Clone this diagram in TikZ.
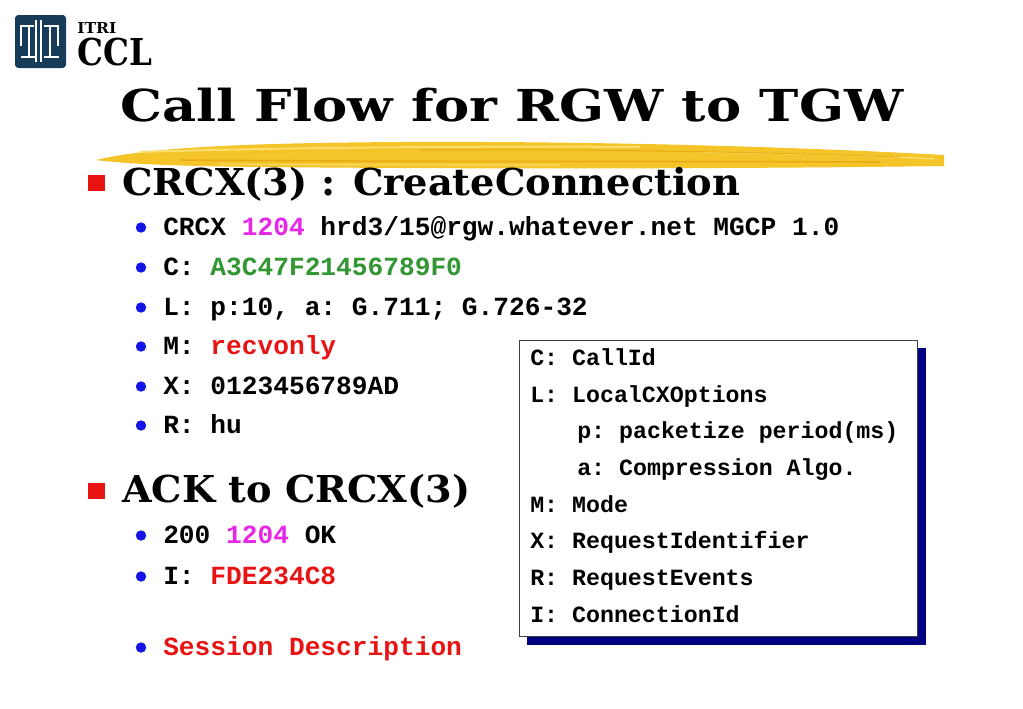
\documentclass[tikz,border=0pt]{standalone}
\usepackage{fontspec}
\usepackage{graphicx}
\setmainfont{DejaVu Serif}
\setmonofont{Liberation Mono}
\definecolor{logoblue}{RGB}{22,60,90}
\definecolor{mag}{RGB}{230,40,230}
\definecolor{grn}{RGB}{50,150,50}
\definecolor{rd}{RGB}{232,20,20}
\definecolor{bdot}{RGB}{20,20,230}
\definecolor{navy}{RGB}{0,0,128}
\definecolor{brushA}{RGB}{244,196,40}
\definecolor{brushB}{RGB}{250,222,110}
\definecolor{brushC}{RGB}{232,172,20}
\tikzset{
  sub/.style={anchor=base west, inner sep=0pt, font=\ttfamily\bfseries\fontsize{19.65}{21}\selectfont},
  boxt/.style={anchor=base west, inner sep=0pt, font=\ttfamily\bfseries\fontsize{17.45}{19}\selectfont},
  bdotstyle/.style={circle, fill=bdot, inner sep=0pt, minimum size=7.8pt},
  sqbullet/.style={fill=rd, inner sep=0pt, minimum width=12.75pt, minimum height=12pt},
  head/.style={anchor=base west, inner sep=0pt, font=\bfseries\fontsize{27.8}{30}\selectfont},
  logostroke/.style={white, line width=2pt},
}
\begin{document}
\begin{tikzpicture}[x=0.75pt,y=-0.75pt]
\useasboundingbox (0,0) rectangle (1023,708);
\fill[white] (0,0) rectangle (1023,708);
% logo
\fill[logoblue, rounded corners=2.5pt] (15,15) rectangle (66,68);
\draw[logostroke] (34,26) -- (21,26) -- (21,46);
\draw[logostroke] (29,26) -- (29,57);
\draw[logostroke] (21,57) -- (35,57);
\draw[logostroke] (36,20) -- (36,62);
\draw[logostroke] (41,20) -- (41,62);
\draw[logostroke] (44,26) -- (58,26) -- (58,46);
\draw[logostroke] (50,26) -- (50,57);
\draw[logostroke] (44,57) -- (59,57);
\node (itri) [anchor=base west, inner sep=0pt, font=\bfseries\fontsize{11.3}{12}\selectfont] at (77,33) {\resizebox{29.25pt}{\height}{ITRI}};
\node (ccl) [anchor=base west, inner sep=0pt, font=\bfseries\fontsize{27.8}{30}\selectfont] at (77,65) {\resizebox{56pt}{\height}{CCL}};
% title
\node (title) [anchor=base west, inner sep=0pt, font=\bfseries\fontsize{33}{36}\selectfont] at (120,121) {\resizebox{587.25pt}{\height}{Call Flow for RGW to TGW}};
% brush stroke
\fill[brushA] (96,160) .. controls (150,147) and (250,143) .. (400,142) .. controls (600,141) and (800,147) .. (944,155) -- (944,166) .. controls (800,168) and (600,169) .. (400,168) .. controls (250,167) and (150,167) .. (96,160) -- cycle;
\draw[brushB, line width=1.5pt] (140,152) .. controls (300,147) and (500,146) .. (640,147);
\draw[brushB, line width=1pt] (700,152) .. controls (800,154) and (880,156) .. (935,159);
\draw[brushB, line width=0.8pt] (220,164) .. controls (350,165) and (450,165) .. (560,165);
\draw[brushC, line width=1.2pt] (180,160) .. controls (400,162) and (600,161) .. (880,162);
\draw[brushC, line width=0.8pt] (420,150) .. controls (600,149) and (760,152) .. (900,157);
% heading 1
\node (sq1) [sqbullet] at (96.5,183) {};
\node (h1) [head] at (122,195) {\resizebox{463.5pt}{\height}{CRCX(3) : CreateConnection}};
\node (d1) [bdotstyle] at (141,227.5) {};
\node (t1) [sub] at (163,235) {CRCX \textcolor{mag}{1204} hrd3/15@rgw.whatever.net MGCP 1.0};
\node (d2) [bdotstyle] at (141,267.5) {};
\node (t2) [sub] at (163,275) {C: \textcolor{grn}{A3C47F21456789F0}};
\node (d3) [bdotstyle] at (141,307.5) {};
\node (t3) [sub] at (163,315) {L: p:10, a: G.711; G.726-32};
\node (d4) [bdotstyle] at (141,346.5) {};
\node (t4) [sub] at (163,354) {M: \textcolor{rd}{recvonly}};
\node (d5) [bdotstyle] at (141,386.5) {};
\node (t5) [sub] at (163,394) {X: 0123456789AD};
\node (d6) [bdotstyle] at (141,425.5) {};
\node (t6) [sub] at (163,433) {R: hu};
% heading 2
\node (sq2) [sqbullet] at (96.5,490.5) {};
\node (h2) [head] at (122,502.5) {\resizebox{261pt}{\height}{ACK to CRCX(3)}};
\node (d7) [bdotstyle] at (141,535.5) {};
\node (t7) [sub] at (163,543) {200 \textcolor{mag}{1204} OK};
\node (d8) [bdotstyle] at (141,576.5) {};
\node (t8) [sub] at (163,584) {I: \textcolor{rd}{FDE234C8}};
\node (d9) [bdotstyle] at (141,647.5) {};
\node (t9) [sub] at (163,655) {\textcolor{rd}{Session Description}};
% legend box
\fill[navy] (527,348) rectangle (926,645);
\node (legend) [anchor=north west, draw=black!75, line width=0.75pt, fill=white, inner sep=0pt, minimum width=298.5pt, minimum height=222pt] at (519,340) {};
\node (b1) [boxt] at (530,365) {C: CallId};
\node (b2) [boxt] at (530,402) {L: LocalCXOptions};
\node (b3) [boxt] at (577,438) {p: packetize period(ms)};
\node (b4) [boxt] at (577,475) {a: Compression Algo.};
\node (b5) [boxt] at (530,512) {M: Mode};
\node (b6) [boxt] at (530,548) {X: RequestIdentifier};
\node (b7) [boxt] at (530,585) {R: RequestEvents};
\node (b8) [boxt] at (530,622) {I: ConnectionId};
\end{tikzpicture}
\end{document}
